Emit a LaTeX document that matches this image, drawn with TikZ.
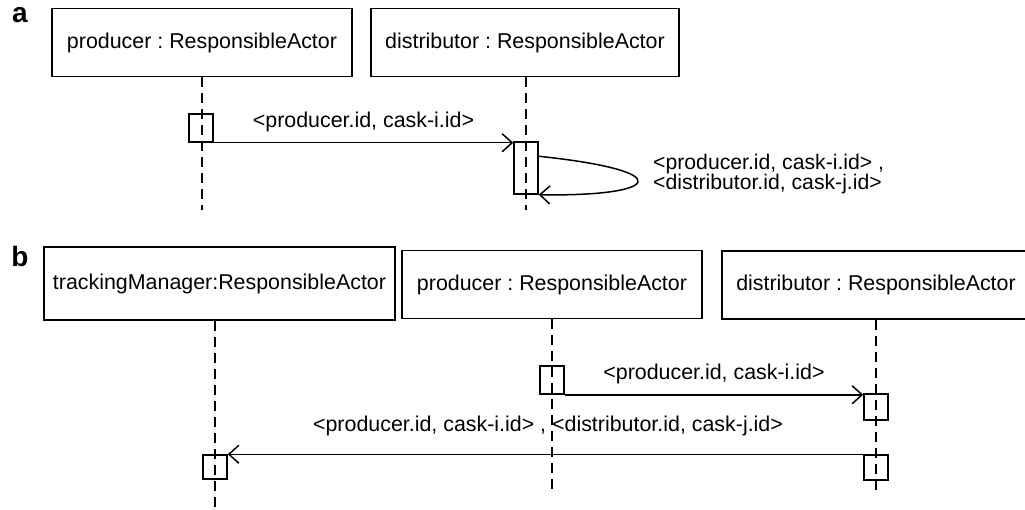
\documentclass[tikz,border=0pt]{standalone}
\usepackage{fontspec}
\setmainfont{Liberation Sans}
\usetikzlibrary{arrows.meta,calc}
\frenchspacing
\begin{document}
\begin{tikzpicture}[x=1pt,y=-1pt,
  every node/.style={font=\fontsize{21.4}{25}\selectfont},
  actor/.style={draw,line width=1.5pt,rectangle,inner sep=0pt,minimum height=68pt},
  act/.style={draw,line width=1.5pt,rectangle,inner sep=0pt,minimum width=24pt},
  life/.style={line width=1.5pt,dash pattern=on 10pt off 6pt},
  msg/.style={line width=1.5pt,-{Straight Barb[length=10pt,width=18pt,line width=1.5pt]}},
  lbl/.style={inner sep=0pt},
  panel/.style={font=\fontsize{28}{30}\selectfont\bfseries,inner sep=0pt}]
\useasboundingbox (0,0) rectangle (1025,510);
\clip (0,0) rectangle (1025,510);

% ---------- panel a ----------
\node[panel] (pa) at (20,15) {a};
\node[actor,minimum width=300pt] (prodA) at (202,42.5) {producer : ResponsibleActor};
\node[actor,minimum width=308pt] (distA) at (525,42.5) {distributor : ResponsibleActor};

\coordinate (prodAend) at (202,210);
\coordinate (distAend) at (526,210);
\draw[life] (prodA.south) -- (prodAend);
\draw[life] (distA.south -| distAend) -- (distAend);

\node[act,minimum height=28pt] (a1) at (201,128) {};
\node[act,minimum height=52pt] (a2) at (526,168) {};

\draw[msg] (a1.south east) -- (a1.south east -| a2.west)
  node[lbl,midway,above=10pt] (ma1) {<producer.id, cask-i.id>};
\draw[msg] ([yshift=-15pt]a2.north east)
  .. controls +(142,15) and +(122,2) .. (a2.south east);
\node[lbl,anchor=west,align=left,font=\fontsize{21.2}{20.5}\selectfont] (ma2) at (653,174)
  {<producer.id, cask-i.id> ,\\<distributor.id, cask-j.id>};

% ---------- panel b ----------
\node[panel] (pb) at (20,256) {b};
\node[actor,minimum width=351pt,minimum height=73pt] (tmB) at (219.5,283.5) {trackingManager:ResponsibleActor};
\node[actor,minimum width=300pt] (prodB) at (552,284.5) {producer : ResponsibleActor};
\node[actor,minimum width=308pt] (distB) at (876,285) {distributor : ResponsibleActor};

\coordinate (tmBend) at (215,512);
\coordinate (prodBend) at (552,495);
\coordinate (distBend) at (876,495);
\draw[life] (tmB.south -| tmBend) -- (tmBend);
\draw[life] (prodB.south) -- (prodBend);
\draw[life] (distB.south) -- (distBend);

\node[act,minimum height=28pt] (b1) at (552,380) {};
\node[act,minimum height=26pt] (b2) at (876,407) {};
\node[act,minimum height=25pt] (b3) at (876,467.5) {};
\node[act,minimum height=24pt] (b4) at (215,467) {};

\draw[msg] (b1.south east) -- (b1.south east -| b2.west)
  node[lbl,midway,above=10pt] (mb1) {<producer.id, cask-i.id>};
\draw[msg] (b3.north west) -- (b3.north west -| b4.east);
\node[lbl] (mb2) at (548,426) {<producer.id, cask-i.id> , <distributor.id, cask-j.id>};
\end{tikzpicture}
\end{document}
